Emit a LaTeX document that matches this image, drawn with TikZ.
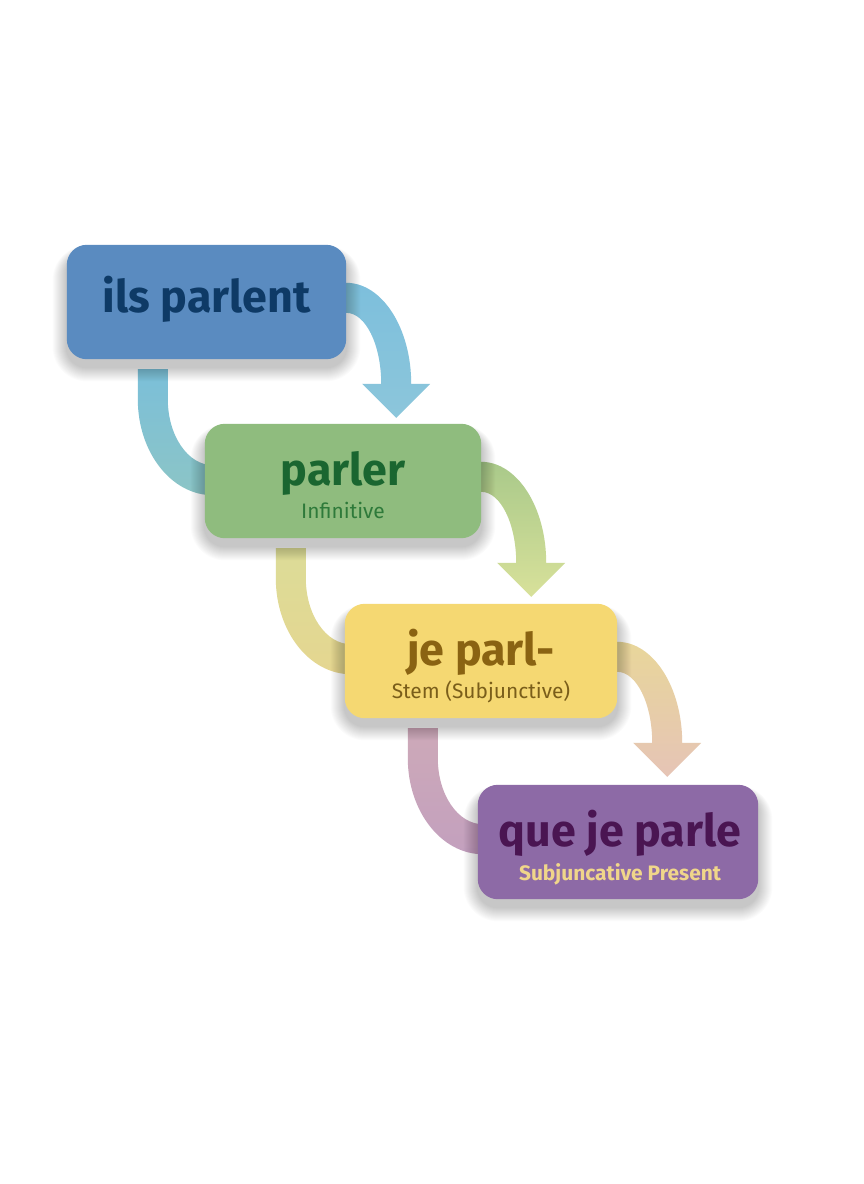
\documentclass[tikz,border=0pt]{standalone}
\usepackage{fontspec}
\setmainfont{Fira Sans}
\pgfdeclarelayer{bg}
\pgfdeclarelayer{bands}
\pgfsetlayers{bg,bands,main}

\definecolor{boxA}{HTML}{5A8BC0}
\definecolor{txtA}{HTML}{0E3A66}
\definecolor{boxB}{HTML}{8FBC7E}
\definecolor{txtB}{HTML}{1A6630}
\definecolor{subB}{HTML}{2E7A3A}
\definecolor{boxC}{HTML}{F5D872}
\definecolor{txtC}{HTML}{8A6312}
\definecolor{subC}{HTML}{7A5E1A}
\definecolor{boxD}{HTML}{8D6AA6}
\definecolor{txtD}{HTML}{4A1552}
\definecolor{subD}{HTML}{F0D68A}

\definecolor{aOneTop}{HTML}{7DBFDC}
\definecolor{aOneBot}{HTML}{8CC6DB}
\definecolor{lOneTop}{HTML}{7BBFD9}
\definecolor{lOneBot}{HTML}{8CC5C6}
\definecolor{aTwoTop}{HTML}{A9C98A}
\definecolor{aTwoBot}{HTML}{D8E19A}
\definecolor{lTwoTop}{HTML}{DCDC98}
\definecolor{lTwoBot}{HTML}{E5D690}
\definecolor{aThrTop}{HTML}{E8D69A}
\definecolor{aThrBot}{HTML}{E6C4B6}
\definecolor{lThrTop}{HTML}{CDA9B8}
\definecolor{lThrBot}{HTML}{C3A0BE}

% curved arrow leaving the right side of #1 and pointing down
\newcommand\sideArrow[3]{%
  \begin{scope}[shift={(#1.north east)}]
    \path[top color=#2, bottom color=#3]
      (-15,38) -- (0,38) arc[start angle=-90, end angle=0, x radius=65, y radius=101]
      -- (84,139) -- (50,173) -- (16,139) -- (35,139)
      arc[start angle=0, end angle=-90, x radius=35, y radius=71]
      -- (-15,68) -- cycle;
  \end{scope}}
% curved band from under #1 into the left side of the next box
\newcommand\loopBand[4]{%
  \begin{scope}[shift={(#1.south west)}, xshift=#2bp]
    \path[top color=#3, bottom color=#4]
      (71,10) -- (71,40) arc[start angle=180, end angle=90, x radius=75, y radius=96]
      -- (146,106) arc[start angle=90, end angle=180, x radius=45, y radius=66]
      -- (101,10) -- cycle;
  \end{scope}}
% soft drop shadow under node #1
\newcommand\softShadow[1]{%
  \foreach \i in {1,...,14}{%
    \pgfmathsetmacro\rr{20+\i}%
    \pgfmathsetmacro\dd{\i}%
    \pgfmathsetmacro\tt{-8+0.5*\i}%
    \fill[black, opacity=0.016, rounded corners=\rr bp]
      ([xshift=-\dd bp, yshift=-8bp-\dd bp]#1.south west) rectangle
      ([xshift=\dd bp, yshift=\tt bp]#1.north east);
  }}

\begin{document}
\begin{tikzpicture}[x=1bp, y=-1bp,
  box/.style={rounded corners=20bp, minimum height=114bp, inner sep=0pt, draw=none},
  title/.style={anchor=base, font=\fontsize{45}{50}\selectfont\bfseries},
  sub/.style={anchor=base, font=\fontsize{21}{25}\selectfont}]
\begin{pgfonlayer}{bg}
\fill[white] (0,0) rectangle (864,1184);
\end{pgfonlayer}
\useasboundingbox (0,0) rectangle (864,1184);

% box positions
\path (206.5,302) coordinate (c1) (343,481) coordinate (c2)
      (481,661) coordinate (c3) (618,842) coordinate (c4);
\node[box, minimum width=279bp] (b1) at (c1) {};
\node[box, minimum width=276bp] (b2) at (c2) {};
\node[box, minimum width=272bp] (b3) at (c3) {};
\node[box, minimum width=280bp] (b4) at (c4) {};

% shadows, then box faces
\softShadow{b1}\softShadow{b2}\softShadow{b3}\softShadow{b4}
\fill[boxA, rounded corners=20bp] (b1.south west) rectangle (b1.north east);
\fill[boxB, rounded corners=20bp] (b2.south west) rectangle (b2.north east);
\fill[boxC, rounded corners=20bp] (b3.south west) rectangle (b3.north east);
\fill[boxD, rounded corners=20bp] (b4.south west) rectangle (b4.north east);

% texts
\node[title, text=txtA] (t1) at (206.5,312) {ils parlent};
\node[title, text=txtB] (t2) at (343,485) {parler};
\node[sub, text=subB] (s2) at (343,518) {Infinitive};
\node[title, text=txtC] (t3) at (481,665) {je parl-};
\node[sub, text=subC] (s3) at (481,698) {Stem (Subjunctive)};
\node[title, text=txtD] (t4) at (620,846) {que je parle};
\node[sub, text=subD, font=\fontsize{21}{25}\selectfont\bfseries] (s4) at (620,880) {Subjuncative Present};

% connectors
\begin{pgfonlayer}{bands}
  \sideArrow{b1}{aOneTop}{aOneBot}
  \sideArrow{b2}{aTwoTop}{aTwoBot}
  \sideArrow{b3}{aThrTop}{aThrBot}
  \loopBand{b1}{0}{lOneTop}{lOneBot}
  \loopBand{b2}{0}{lTwoTop}{lTwoBot}
  \loopBand{b3}{-8}{lThrTop}{lThrBot}
\end{pgfonlayer}
\end{tikzpicture}
\end{document}
